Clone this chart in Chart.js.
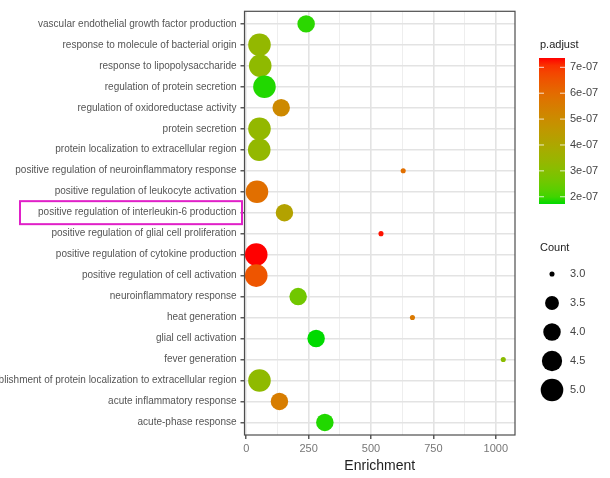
<!DOCTYPE html>
<html>
<head>
<meta charset="utf-8">
<script src="https://cdn.jsdelivr.net/npm/chart.js@4.4.1/dist/chart.umd.min.js"></script>
<style>
  body { margin: 0; background: #fff; }
  #wrap { width: 610px; height: 478px; }
</style>
</head>
<body>
<div id="wrap"><canvas id="myChart" width="610" height="478"></canvas></div>
<script>
// GO terms, top to bottom
const categories = [
    'vascular endothelial growth factor production',
    'response to molecule of bacterial origin',
    'response to lipopolysaccharide',
    'regulation of protein secretion',
    'regulation of oxidoreductase activity',
    'protein secretion',
    'protein localization to extracellular region',
    'positive regulation of neuroinflammatory response',
    'positive regulation of leukocyte activation',
    'positive regulation of interleukin-6 production',
    'positive regulation of glial cell proliferation',
    'positive regulation of cytokine production',
    'positive regulation of cell activation',
    'neuroinflammatory response',
    'heat generation',
    'glial cell activation',
    'fever generation',
    'establishment of protein localization to extracellular region',
    'acute inflammatory response',
    'acute-phase response'
];
const enrichment = [240, 53, 56, 73, 140, 53, 52, 629, 43, 153, 540, 40, 40, 208, 666, 280, 1030, 53, 133, 315];
const counts = [4, 5, 5, 5, 4, 5, 5, 3, 5, 4, 3, 5, 5, 4, 3, 4, 3, 5, 4, 4];
const pAdjust = [1.85e-7, 3.3e-7, 3.2e-7, 1.8e-7, 5.1e-7, 3.3e-7, 3.3e-7, 5.9e-7, 5.9e-7, 4.2e-7,
                 7.3e-7, 7.36e-7, 6.5e-7, 2.6e-7, 5.6e-7, 1.72e-7, 3.1e-7, 3.2e-7, 5.5e-7, 1.8e-7];
const xTicks = [0, 250, 500, 750, 1000];
const pBreaks = [2e-7, 3e-7, 4e-7, 5e-7, 6e-7, 7e-7];
const pLabels = ['2e-07', '3e-07', '4e-07', '5e-07', '6e-07', '7e-07'];
const countBreaks = [3.0, 3.5, 4.0, 4.5, 5.0];
const highlighted = 'positive regulation of interleukin-6 production';

const FONT = "'Liberation Sans', Arial, sans-serif";
Chart.defaults.font.family = FONT;

// ---- colour scale: green -> red, interpolated in Lab like ggplot ----
function toLin(c) { c /= 255; return c <= 0.04045 ? c / 12.92 : Math.pow((c + 0.055) / 1.055, 2.4); }
function fromLin(c) { c = c <= 0.0031308 ? 12.92 * c : 1.055 * Math.pow(c, 1 / 2.4) - 0.055; return Math.max(0, Math.min(255, Math.round(c * 255))); }
function rgb2lab(r, g, b) {
    r = toLin(r); g = toLin(g); b = toLin(b);
    let x = (r * 0.4124 + g * 0.3576 + b * 0.1805) / 0.95047;
    let y = (r * 0.2126 + g * 0.7152 + b * 0.0722);
    let z = (r * 0.0193 + g * 0.1192 + b * 0.9505) / 1.08883;
    const f = t => t > 0.008856 ? Math.cbrt(t) : 7.787 * t + 16 / 116;
    x = f(x); y = f(y); z = f(z);
    return [116 * y - 16, 500 * (x - y), 200 * (y - z)];
}
function lab2rgb(L, a, bb) {
    let y = (L + 16) / 116, x = a / 500 + y, z = y - bb / 200;
    const fi = t => t * t * t > 0.008856 ? t * t * t : (t - 16 / 116) / 7.787;
    x = fi(x) * 0.95047; y = fi(y); z = fi(z) * 1.08883;
    const r = x * 3.2406 + y * -1.5372 + z * -0.4986;
    const g = x * -0.9689 + y * 1.8758 + z * 0.0415;
    const b = x * 0.0557 + y * -0.2040 + z * 1.0570;
    return 'rgb(' + fromLin(r) + ',' + fromLin(g) + ',' + fromLin(b) + ')';
}
const lowLab = rgb2lab(0, 218, 0);
const highLab = rgb2lab(255, 0, 0);
const pMin = Math.min(...pAdjust), pMax = Math.max(...pAdjust);
function colorAt(t) {
    return lab2rgb(lowLab[0] + (highLab[0] - lowLab[0]) * t,
                   lowLab[1] + (highLab[1] - lowLab[1]) * t,
                   lowLab[2] + (highLab[2] - lowLab[2]) * t);
}
function pColor(p) { return colorAt((p - pMin) / (pMax - pMin)); }

// ---- size scale (area), counts 3..5 ----
const cMin = Math.min(...counts), cMax = Math.max(...counts);
function sizeOf(c) {
    const s = 1 + 5 * Math.sqrt((c - cMin) / (cMax - cMin));
    return 10.5 * s / 6 + 0.8;
}

const points = enrichment.map((e, i) => ({ x: e, y: i, r: sizeOf(counts[i]) }));

const extras = {
    id: 'extras',
    afterDraw(chart) {
        const c = chart.ctx;
        const a = chart.chartArea;
        c.save();
        // panel border
        c.strokeStyle = '#4d4d4d';
        c.lineWidth = 1.2;
        c.strokeRect(a.left, a.top, a.right - a.left, a.bottom - a.top);

        // highlight box round one label
        const yy = chart.scales.y.getPixelForValue(categories.indexOf(highlighted));
        c.strokeStyle = '#e020c8';
        c.lineWidth = 2;
        c.strokeRect(20, yy - 11.5, 222, 23);

        // colour bar legend
        c.fillStyle = '#222';
        c.font = '11px ' + FONT;
        c.textBaseline = 'middle';
        c.textAlign = 'left';
        c.fillText('p.adjust', 540, 45);
        const bx = 539, bw = 26, bTop = 58, bBot = 204;
        const grad = c.createLinearGradient(0, bBot, 0, bTop);
        for (let k = 0; k <= 20; k++) grad.addColorStop(k / 20, colorAt(k / 20));
        c.fillStyle = grad;
        c.fillRect(bx, bTop, bw, bBot - bTop);
        c.strokeStyle = 'rgba(255,255,255,0.8)';
        c.lineWidth = 1;
        c.fillStyle = '#444';
        pBreaks.forEach((b, k) => {
            const y = bBot - (b - pMin) / (pMax - pMin) * (bBot - bTop);
            c.beginPath();
            c.moveTo(bx, y); c.lineTo(bx + 5, y);
            c.moveTo(bx + bw - 5, y); c.lineTo(bx + bw, y);
            c.stroke();
            c.fillText(pLabels[k], 570, y);
        });

        // size legend
        c.fillStyle = '#222';
        c.fillText('Count', 540, 248);
        countBreaks.forEach((b, k) => {
            const y = 274 + k * 29;
            c.fillStyle = '#000';
            c.beginPath();
            c.arc(552, y, sizeOf(b), 0, Math.PI * 2);
            c.fill();
            c.fillStyle = '#444';
            c.fillText(b.toFixed(1), 570, y);
        });
        c.restore();
    }
};

const config = {
    type: 'bubble',
    data: {
        datasets: [{
            data: points,
            backgroundColor: pAdjust.map(pColor),
            borderWidth: 0
        }]
    },
    options: {
        responsive: false,
        animation: false,
        layout: { padding: { top: 6, right: 95, left: 0, bottom: 0 } },
        plugins: {
            legend: { display: false },
            tooltip: { enabled: false }
        },
        scales: {
            x: {
                type: 'linear',
                min: -7,
                max: 1077,
                afterBuildTicks: (scale) => {
                    const t = [];
                    for (let v = 0; v <= 1000; v += 125) t.push({ value: v });
                    scale.ticks = t;
                },
                afterFit: (scale) => { scale.height = 43; },
                ticks: {
                    autoSkip: false,
                    maxRotation: 0,
                    padding: 3,
                    color: '#777',
                    font: { size: 11 },
                    callback: (v) => xTicks.includes(v) ? v : ''
                },
                grid: {
                    color: (ctx) => ctx.tick && ctx.tick.value % 250 === 0 ? '#e3e3e3' : '#eeeeee',
                    lineWidth: (ctx) => ctx.tick && ctx.tick.value % 250 === 0 ? 1.6 : 1,
                    tickColor: (ctx) => ctx.tick && ctx.tick.value % 250 === 0 ? '#333' : 'rgba(0,0,0,0)',
                    tickLength: 4,
                    tickWidth: 1.2
                },
                border: { display: false },
                title: {
                    display: true,
                    text: 'Enrichment',
                    color: '#222',
                    font: { size: 14 },
                    padding: { top: 0, bottom: 3 }
                }
            },
            y: {
                type: 'linear',
                reverse: true,
                min: -0.6,
                max: 19.6,
                afterBuildTicks: (scale) => {
                    scale.ticks = categories.map((c, i) => ({ value: i }));
                },
                afterFit: (scale) => { scale.width = 244.5; },
                ticks: {
                    autoSkip: false,
                    padding: 4,
                    color: '#555',
                    font: { size: 10 },
                    callback: (v) => categories[v]
                },
                grid: {
                    color: '#e3e3e3',
                    lineWidth: 1.6,
                    tickColor: '#333',
                    tickLength: 4,
                    tickWidth: 1.2
                },
                border: { display: false }
            }
        }
    },
    plugins: [extras]
};

const myChart = new Chart(document.getElementById('myChart').getContext('2d'), config);
</script>
</body>
</html>
